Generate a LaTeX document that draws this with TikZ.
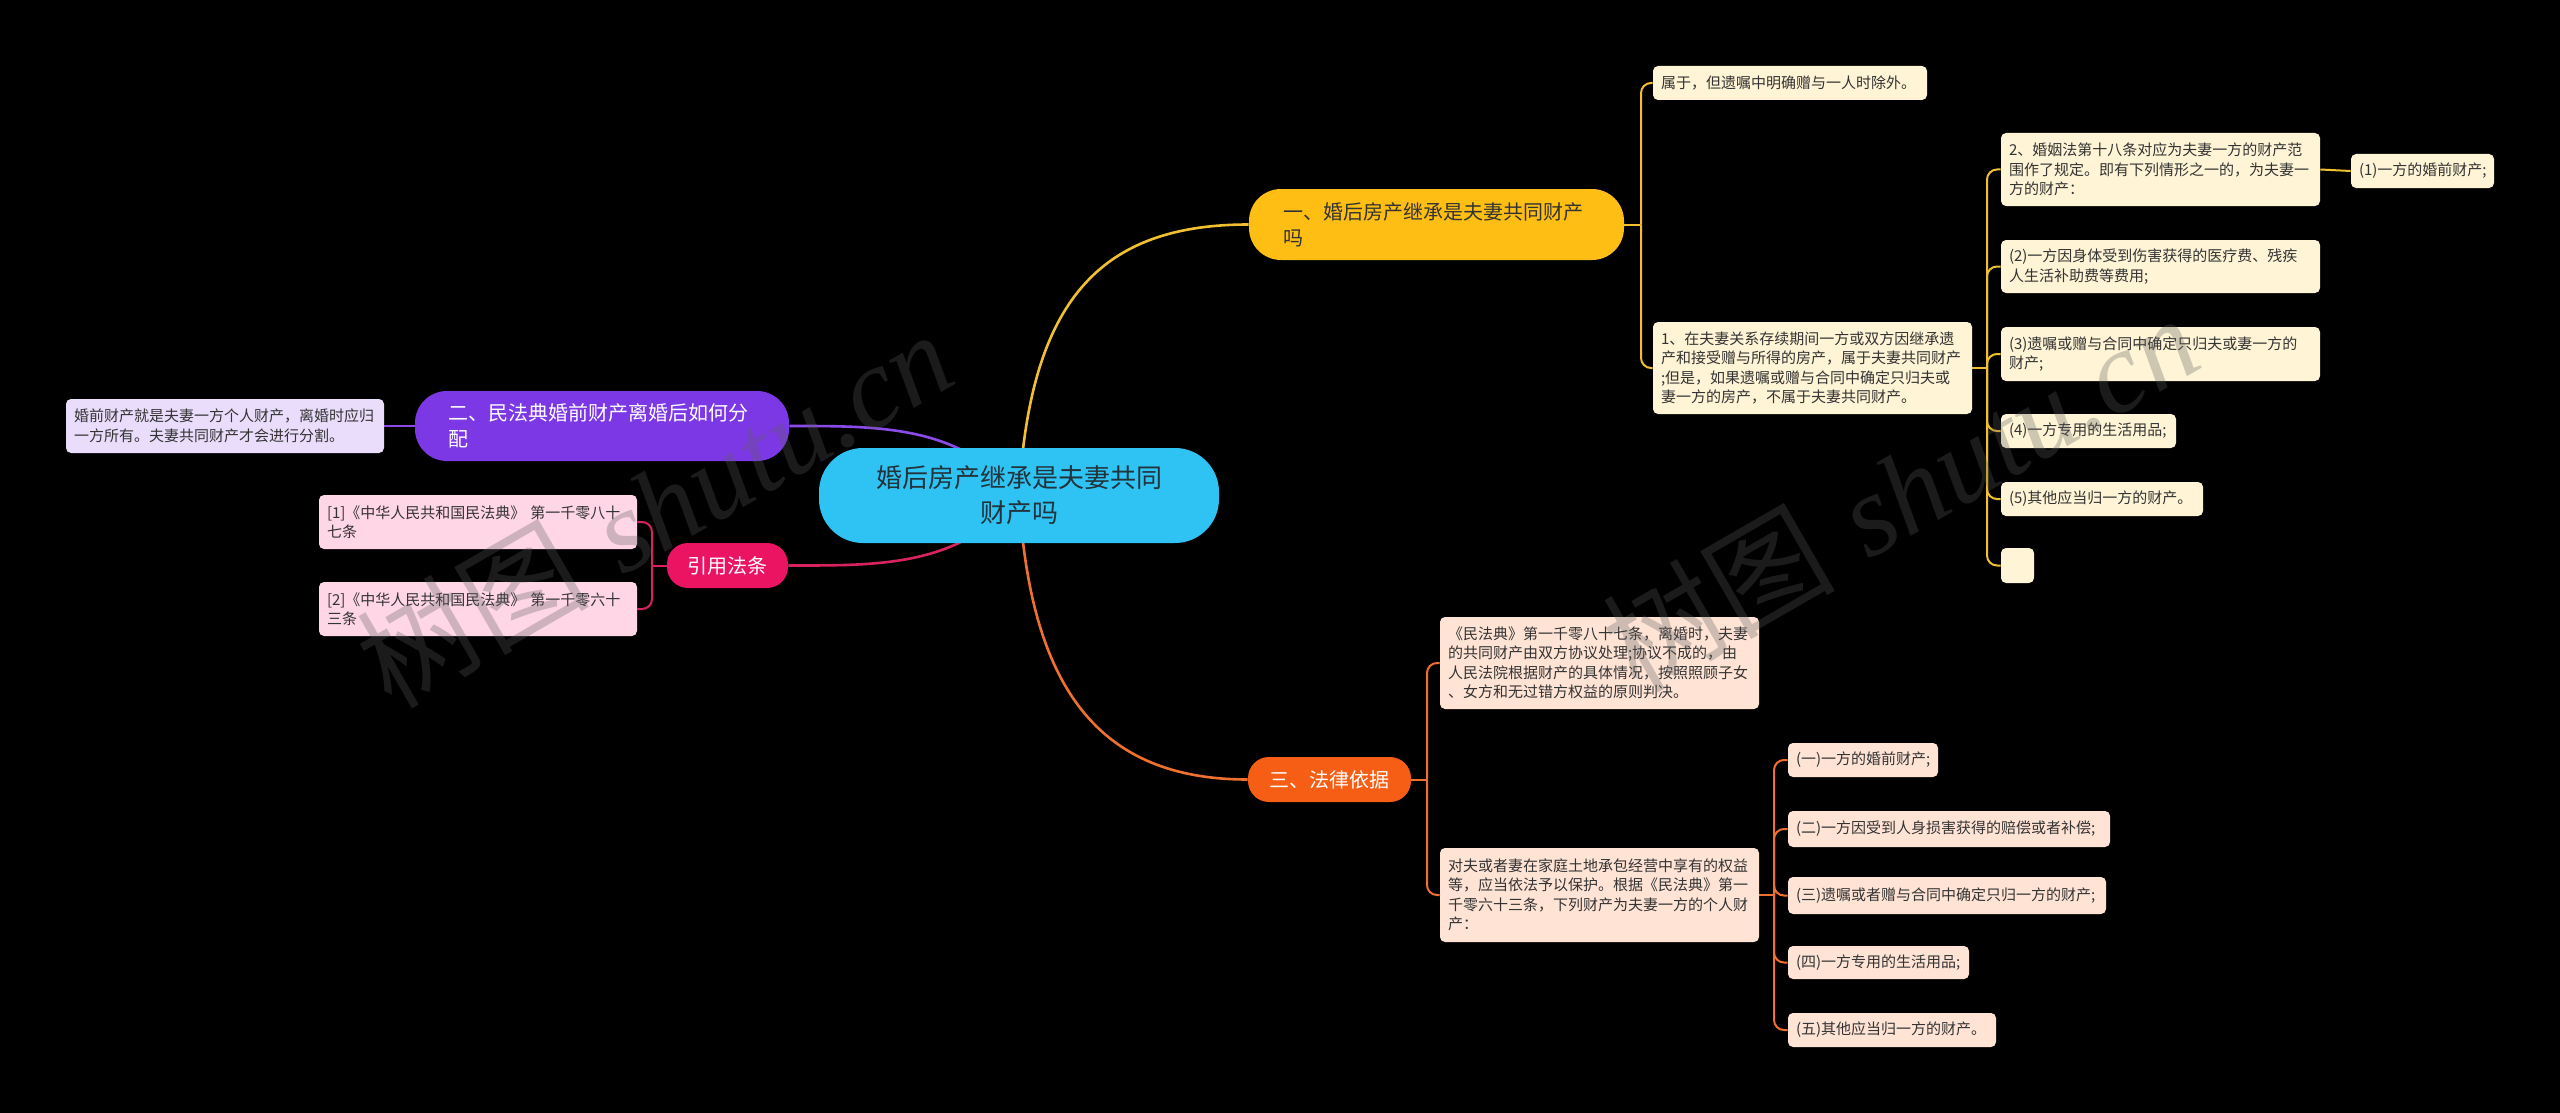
\documentclass[tikz,border=0pt]{standalone}
\usepackage{fontspec}
\newfontfamily\cjk{Noto Sans CJK SC}
\newfontfamily\wmserif{Liberation Serif}
\usetikzlibrary{backgrounds}
\pgfdeclarelayer{fg}
\pgfsetlayers{background,main,fg}
\definecolor{ccyan}{HTML}{2FC3F4}
\definecolor{cyel}{HTML}{FFBE14}
\definecolor{cpur}{HTML}{7D38E6}
\definecolor{cmag}{HTML}{EB1463}
\definecolor{corg}{HTML}{F55E14}
\definecolor{lyel}{HTML}{FFF4D6}
\definecolor{lorg}{HTML}{FFE4D6}
\definecolor{lpink}{HTML}{FFD6E6}
\definecolor{lpur}{HTML}{E9DDFB}
\definecolor{kyel}{HTML}{F0C030}
\definecolor{korg}{HTML}{F07030}
\definecolor{kpur}{HTML}{8A4BE8}
\definecolor{kmag}{HTML}{D92262}
\definecolor{txt}{HTML}{333333}
\definecolor{ctxt}{HTML}{22333B}
\definecolor{wmc}{HTML}{5C5C5C}
\newcommand\leaffont{\cjk\fontsize{7.5pt}{9.75pt}\selectfont}
\newcommand\brfont{\cjk\fontsize{10pt}{13pt}\selectfont}
\newcommand\ctrfont{\cjk\fontsize{13pt}{17.5pt}\selectfont}
% style, name, x1, y1, x2, y2, xpad(pt), text
\newcommand\mmnode[8]{%
 \pgfmathsetmacro\mw{(#5-#3)*0.5}%
 \pgfmathsetmacro\mh{(#6-#4)*0.5}%
 \pgfmathsetmacro\mtw{\mw-2*#7}%
 \pgfmathsetmacro\mcx{(#3+#5)/2}%
 \pgfmathsetmacro\mcy{(#4+#6)/2}%
 \node[#1, inner xsep=#7pt, inner ysep=0pt, text width=\mtw pt, minimum height=\mh pt] (#2) at (\mcx,\mcy) {#8};}
\tikzset{
 leafy/.style={fill=lyel, rounded corners=2.5pt, font=\leaffont, text=txt, align=left},
 leafo/.style={fill=lorg, rounded corners=2.5pt, font=\leaffont, text=txt, align=left},
 leafp/.style={fill=lpink, rounded corners=2.5pt, font=\leaffont, text=txt, align=left},
 leafu/.style={fill=lpur, rounded corners=2.5pt, font=\leaffont, text=txt, align=left},
 ctrbox/.style={fill=ccyan, rounded corners=22pt, font=\ctrfont, text=ctxt, align=center},
 brY/.style={fill=cyel, rounded corners=16pt, font=\brfont, text=txt, align=left},
 brU/.style={fill=cpur, rounded corners=16pt, font=\brfont, text=white, align=left},
 brM/.style={fill=cmag, rounded corners=10.5pt, font=\brfont, text=white, align=center},
 brO/.style={fill=corg, rounded corners=10.5pt, font=\brfont, text=white, align=center},
 mainlink/.style={line width=1.3pt},
 brk/.style={line width=1pt, rounded corners=5pt},
 wmark/.style={rotate=30, text=wmc, text opacity=0.3, inner sep=0pt, font=\fontsize{58pt}{60pt}\selectfont}
}
\begin{document}
\begin{tikzpicture}[x=0.5pt,y=-0.5pt]
\useasboundingbox (0,0) rectangle (2560,1113);

% central and branches
\mmnode{ctrbox}{ctr}{819}{448}{1219}{543}{20}{婚后房产继承是夫妻共同\\财产吗}
\mmnode{brY}{b1}{1249}{189}{1624}{260}{17}{一、婚后房产继承是夫妻共同财产\\吗}
\mmnode{brU}{b2}{415}{391}{789}{461}{16.5}{二、民法典婚前财产离婚后如何分\\配}
\mmnode{brM}{b4}{667}{543}{788}{588}{5}{引用法条}
\mmnode{brO}{b3}{1248}{757}{1411}{802}{5}{三、法律依据}

% yellow leaves
\mmnode{leafy}{c11}{1653}{66}{1927}{100}{4}{属于，但遗嘱中明确赠与一人时除外。}
\mmnode{leafy}{c12}{1653}{322}{1972}{414}{4}{1、在夫妻关系存续期间一方或双方因继承遗\\产和接受赠与所得的房产，属于夫妻共同财产\\;但是，如果遗嘱或赠与合同中确定只归夫或\\妻一方的房产，不属于夫妻共同财产。}
\mmnode{leafy}{c21}{2001}{133}{2320}{206}{4}{2、婚姻法第十八条对应为夫妻一方的财产范\\围作了规定。即有下列情形之一的，为夫妻一\\方的财产：}
\mmnode{leafy}{c211}{2351}{154}{2494}{188}{4}{(1)一方的婚前财产;}
\mmnode{leafy}{c22}{2001}{240}{2320}{293}{4}{(2)一方因身体受到伤害获得的医疗费、残疾\\人生活补助费等费用;}
\mmnode{leafy}{c23}{2001}{327}{2320}{381}{4}{(3)遗嘱或赠与合同中确定只归夫或妻一方的\\财产;}
\mmnode{leafy}{c24}{2001}{414}{2176}{448}{4}{(4)一方专用的生活用品;}
\mmnode{leafy}{c25}{2001}{482}{2203}{516}{4}{(5)其他应当归一方的财产。}
\mmnode{leafy}{c26}{2001}{548}{2034}{583}{4}{}

% purple leaf
\mmnode{leafu}{p1}{66}{399}{384}{453}{4}{婚前财产就是夫妻一方个人财产，离婚时应归\\一方所有。夫妻共同财产才会进行分割。}

% pink leaves
\mmnode{leafp}{m1}{319}{495}{637}{549}{4}{[1]《中华人民共和国民法典》 第一千零八十\\七条}
\mmnode{leafp}{m2}{319}{582}{637}{636}{4}{[2]《中华人民共和国民法典》 第一千零六十\\三条}

% orange leaves
\mmnode{leafo}{o1}{1440}{617}{1759}{709}{4}{《民法典》第一千零八十七条，离婚时，夫妻\\的共同财产由双方协议处理;协议不成的，由\\人民法院根据财产的具体情况，按照照顾子女\\、女方和无过错方权益的原则判决。}
\mmnode{leafo}{o2}{1440}{848}{1759}{942}{4}{对夫或者妻在家庭土地承包经营中享有的权益\\等，应当依法予以保护。根据《民法典》第一\\千零六十三条，下列财产为夫妻一方的个人财\\产：}
\mmnode{leafo}{o21}{1788}{743}{1938}{777}{4}{(一)一方的婚前财产;}
\mmnode{leafo}{o22}{1788}{811}{2110}{847}{4}{(二)一方因受到人身损害获得的赔偿或者补偿;}
\mmnode{leafo}{o23}{1788}{877}{2106}{914}{4}{(三)遗嘱或者赠与合同中确定只归一方的财产;}
\mmnode{leafo}{o24}{1788}{946}{1969}{979}{4}{(四)一方专用的生活用品;}
\mmnode{leafo}{o25}{1788}{1013}{1996}{1047}{4}{(五)其他应当归一方的财产。}

% bus points
\coordinate (bus1) at (1641,224.5);
\coordinate (bus2) at (1987,368);
\coordinate (bus3) at (1427,779.5);
\coordinate (bus4) at (652,565.5);
\coordinate (bus5) at (1774,895);

\begin{pgfonlayer}{background}
\fill[black] (0,0) rectangle (2560,1113);
% main curves
\draw[mainlink, kyel] (ctr.center) .. controls (1030,300) and (1100,224.5) .. (b1.west);
\draw[mainlink, korg] (ctr.center) .. controls (1030,690) and (1100,779.5) .. (b3.west);
\draw[mainlink, kpur] (ctr.center) .. controls (960,425) and (880,426) .. (b2.east);
\draw[mainlink, kmag] (ctr.center) .. controls (960,567) and (880,565.5) .. (b4.east);
% yellow brackets
\draw[brk, kyel] (b1.east) -- (bus1);
\draw[brk, kyel] (bus1) |- (c11.west);
\draw[brk, kyel] (bus1) |- (c12.west);
\draw[brk, kyel] (c12.east) -- (bus2);
\foreach \c in {c21,c22,c23,c24,c25,c26} \draw[brk, kyel] (bus2) |- (\c.west);
\draw[brk, kyel] (c21.east) -- (c211.west);
% purple
\draw[brk, kpur] (b2.west) -- (p1.east);
% magenta
\draw[brk, kmag] (b4.west) -- (bus4);
\draw[brk, kmag] (bus4) |- (m1.east);
\draw[brk, kmag] (bus4) |- (m2.east);
% orange
\draw[brk, korg] (b3.east) -- (bus3);
\draw[brk, korg] (bus3) |- (o1.west);
\draw[brk, korg] (bus3) |- (o2.west);
\draw[brk, korg] (o2.east) -- (bus5);
\foreach \c in {o21,o22,o23,o24,o25} \draw[brk, korg] (bus5) |- (\c.west);
\end{pgfonlayer}

\begin{pgfonlayer}{fg}
\node[wmark] (wm1) at (654,508) {{\cjk 树图} {\wmserif\itshape shutu.cn}};
\node[wmark] (wm2) at (1900,492) {{\cjk 树图} {\wmserif\itshape shutu.cn}};
\end{pgfonlayer}
\end{tikzpicture}
\end{document}
